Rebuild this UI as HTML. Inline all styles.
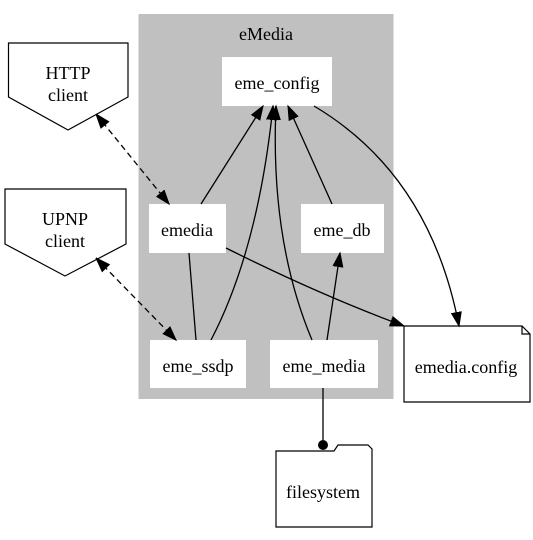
<!DOCTYPE html>
<html><head><style>
html,body{margin:0;padding:0;background:#fff;}
text{font-family:"Liberation Serif","Times New Roman",Times,"DejaVu Serif",serif;font-size:18px;fill:#000;}
</style></head><body>
<svg width="533" height="535" viewBox="0 0 533 535" xmlns="http://www.w3.org/2000/svg">
<defs>
<marker id="a" markerUnits="userSpaceOnUse" markerWidth="16" markerHeight="12" refX="14" refY="5" orient="auto" viewBox="0 0 16 10">
<path d="M0,0 L14,5 L0,10 Z" fill="#000" stroke="#000"/></marker>
<marker id="b" markerUnits="userSpaceOnUse" markerWidth="16" markerHeight="12" refX="0" refY="5" orient="auto" viewBox="0 0 16 10">
<path d="M14,0 L0,5 L14,10 Z" fill="#000" stroke="#000"/></marker>
</defs>
<rect x="138.5" y="14" width="255" height="385" fill="#c0c0c0"/>
<g font-family="Liberation Serif, serif" font-size="18">
<text x="266" y="40" text-anchor="middle">eMedia</text>
</g>
<g fill="#fff">
<rect x="222" y="57" width="110" height="49"/>
<rect x="149" y="204" width="77" height="49"/>
<rect x="301" y="204" width="83" height="49"/>
<rect x="150" y="340" width="96" height="48"/>
<rect x="270" y="340" width="108" height="48"/>
</g>
<g fill="#fff" stroke="#000" stroke-width="1.2">
<path d="M8.5,43 L128,43 L128,97 L68,130 L8.5,97 Z"/>
<path d="M5,189 L126,189 L126,244 L65,276 L5,244 Z"/>
<path d="M404,326 L522,326 L530,334 L530,402 L404,402 Z"/>
<path d="M276,451 L334,451 L338,445 L368,445 L372,449 L372,527 L276,527 Z"/>
</g>
<path d="M522,326 L522,334 L530,334" fill="none" stroke="#000" stroke-width="1.2"/>
<g font-family="Liberation Serif, serif" font-size="18" text-anchor="middle">
<text x="277" y="89">eme_config</text>
<text x="187" y="236">emedia</text>
<text x="342" y="236">eme_db</text>
<text x="198" y="372">eme_ssdp</text>
<text x="324" y="372">eme_media</text>
<text x="68" y="79">HTTP</text>
<text x="68" y="101">client</text>
<text x="65" y="225">UPNP</text>
<text x="65" y="247">client</text>
<text x="466" y="373">emedia.config</text>
<text x="323" y="498">filesystem</text>
</g>
<g fill="none" stroke="#000" stroke-width="1.3">
<path d="M201,204 L263,106" marker-end="url(#a)"/>
<path d="M211,340 Q258,250 273,106" marker-end="url(#a)"/>
<path d="M312,340 Q270,240 276,106" marker-end="url(#a)"/>
<path d="M332,204 L288,106" marker-end="url(#a)"/>
<path d="M189,253 L196,340"/>
<path d="M327,340 L340,253" marker-end="url(#a)"/>
<path d="M226,248 Q320,295 404,326" marker-end="url(#a)"/>
<path d="M314,106 Q430,175 459,326" marker-end="url(#a)"/>
<path d="M96,114 L169,204" stroke-dasharray="6,4" marker-start="url(#b)" marker-end="url(#a)"/>
<path d="M96,258 L176,340" stroke-dasharray="6,4" marker-start="url(#b)" marker-end="url(#a)"/>
<path d="M323,388 L323,440"/>
</g>
<circle cx="323" cy="445" r="5" fill="#000"/>
</svg>
</body></html>
